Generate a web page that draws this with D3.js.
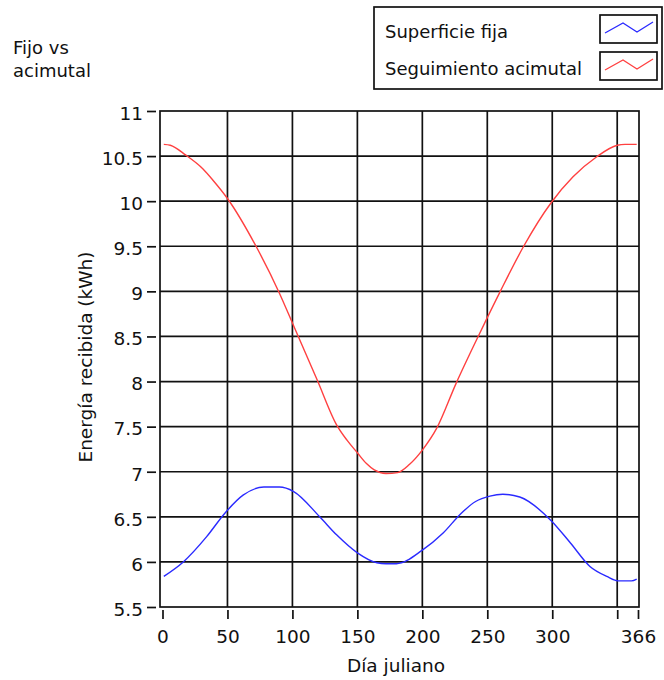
<!DOCTYPE html>
<html>
<head>
<meta charset="utf-8">
<script src="https://cdn.jsdelivr.net/npm/d3@7"></script>
<style>
  html, body { margin: 0; padding: 0; background: #ffffff; }
  svg { display: block; font-family: "DejaVu Sans", sans-serif; }
</style>
</head>
<body>
<svg id="chart" width="664" height="680"></svg>
<script>
// ---- data ----
const titleLines = ["Fijo vs", "acimutal"];
const seriesNames = ["Superficie fija", "Seguimiento acimutal"];
const seriesColors = ["#2a2aff", "#ff4040"];

const fixedDays = [1, 16, 34, 48, 62, 78, 90, 101, 121, 134, 150, 165, 172, 180, 200, 216, 230, 241, 252, 262, 275, 299, 314, 329, 342, 351, 361, 365];
const fixedVals = [5.84, 6.00, 6.28, 6.54, 6.74, 6.83, 6.83, 6.78, 6.50, 6.30, 6.10, 5.99, 5.98, 5.98, 6.13, 6.32, 6.54, 6.67, 6.73, 6.75, 6.72, 6.46, 6.21, 5.95, 5.84, 5.79, 5.79, 5.81];

const trackDays = [1, 6, 18, 31, 39, 50, 72, 90, 100, 119, 134, 142, 150, 157, 163, 172, 181, 190, 200, 211, 226, 244, 260, 278, 299, 316, 334, 350, 356, 365];
const trackVals = [10.63, 10.62, 10.51, 10.36, 10.23, 10.03, 9.50, 8.98, 8.65, 8.02, 7.52, 7.35, 7.21, 7.09, 7.02, 6.98, 6.99, 7.08, 7.24, 7.48, 7.98, 8.53, 9.00, 9.50, 9.98, 10.27, 10.49, 10.62, 10.63, 10.63];

const xTicks = [0, 50, 100, 150, 200, 250, 300, 350, 366];
const xTickLabels = ["0", "50", "100", "150", "200", "250", "300", "", "366"];
const yTicks = [5.5, 6, 6.5, 7, 7.5, 8, 8.5, 9, 9.5, 10, 10.5, 11];
const yTickLabels = ["5.5", "6", "6.5", "7", "7.5", "8", "8.5", "9", "9.5", "10", "10.5", "11"];
const xTitle = "Día juliano";
const yTitle = "Energía recibida (kWh)";

// ---- layout ----
const svg = d3.select("#chart");
const frame = { left: 160, right: 639, top: 111, bottom: 607 };
const x = d3.scaleLinear().domain([0, 366]).range([162.5, 638]);
const y = d3.scaleLinear().domain([5.5, 11]).range([frame.bottom, frame.top]);
const ink = "#111";

// grid
const grid = svg.append("g");
grid.selectAll("line.v").data(xTicks.filter(d => d > 0 && d < 366)).enter().append("line")
  .attr("x1", d => x(d)).attr("x2", d => x(d))
  .attr("y1", frame.top).attr("y2", frame.bottom)
  .attr("stroke", ink).attr("stroke-width", 1.7);
grid.selectAll("line.h").data(yTicks.filter(d => d > 5.5 && d < 11)).enter().append("line")
  .attr("x1", frame.left).attr("x2", frame.right)
  .attr("y1", d => y(d)).attr("y2", d => y(d))
  .attr("stroke", ink).attr("stroke-width", 1.7);

// frame
svg.append("rect")
  .attr("x", frame.left).attr("y", frame.top)
  .attr("width", frame.right - frame.left).attr("height", frame.bottom - frame.top)
  .attr("fill", "none").attr("stroke", ink).attr("stroke-width", 1.7);

// axes
const yAxis = d3.axisLeft(y).tickValues(yTicks)
  .tickFormat((d, i) => yTickLabels[i]).tickSize(9).tickPadding(4);
const gy = svg.append("g").attr("transform", "translate(156,0)").call(yAxis);
gy.select(".domain").remove();
gy.selectAll(".tick line").attr("stroke", ink).attr("stroke-width", 1.7);
gy.selectAll(".tick text").attr("font-size", 18.5).attr("fill", ink).attr("dy", "0.45em")
  .attr("font-family", "DejaVu Sans, sans-serif");

const xAxis = d3.axisBottom(x).tickValues(xTicks)
  .tickFormat((d, i) => xTickLabels[i]).tickSize(9).tickPadding(11);
const gx = svg.append("g").attr("transform", "translate(0,610)").call(xAxis);
gx.select(".domain").remove();
gx.selectAll(".tick line").attr("stroke", ink).attr("stroke-width", 1.7);
gx.selectAll(".tick text").attr("font-size", 18.5).attr("fill", ink)
  .attr("font-family", "DejaVu Sans, sans-serif");

// lines
const line = d3.line().x(d => x(d[0])).y(d => y(d[1])).curve(d3.curveMonotoneX);
const fixedData = fixedDays.map((d, i) => [d, fixedVals[i]]);
const trackData = trackDays.map((d, i) => [d, trackVals[i]]);
svg.append("path").datum(fixedData).attr("d", line)
  .attr("fill", "none").attr("stroke", seriesColors[0]).attr("stroke-width", 1.4);
svg.append("path").datum(trackData).attr("d", line)
  .attr("fill", "none").attr("stroke", seriesColors[1]).attr("stroke-width", 1.4);

// axis titles
svg.append("text").attr("x", 396).attr("y", 672).attr("text-anchor", "middle")
  .attr("font-size", 18.5).attr("fill", ink).text(xTitle);
svg.append("text").attr("transform", "translate(92,357) rotate(-90)").attr("text-anchor", "middle")
  .attr("font-size", 18.5).attr("fill", ink).text(yTitle);

// title
svg.append("g").selectAll("text").data(titleLines).enter().append("text")
  .attr("x", 13).attr("y", (d, i) => 54 + i * 23)
  .attr("font-size", 18).attr("fill", ink).text(d => d);

// legend
const lg = svg.append("g");
lg.append("rect").attr("x", 374).attr("y", 7).attr("width", 288).attr("height", 82)
  .attr("fill", "#fff").attr("stroke", ink).attr("stroke-width", 1.7);
const items = lg.selectAll("g.item").data(seriesNames).enter().append("g")
  .attr("transform", (d, i) => `translate(0,${i * 37})`);
items.append("text").attr("x", 385).attr("y", 38).attr("font-size", 18).attr("fill", ink).text(d => d);
items.append("rect").attr("x", 600).attr("y", 15).attr("width", 57).attr("height", 28)
  .attr("fill", "#fff").attr("stroke", ink).attr("stroke-width", 1.7);
const zig = [[5, 18], [23, 8], [37, 17], [53, 7]];
items.append("path")
  .attr("d", d3.line()(zig.map(p => [600 + p[0], 15 + p[1]])))
  .attr("fill", "none").attr("stroke", (d, i) => seriesColors[i]).attr("stroke-width", 1.3);
</script>
</body>
</html>
